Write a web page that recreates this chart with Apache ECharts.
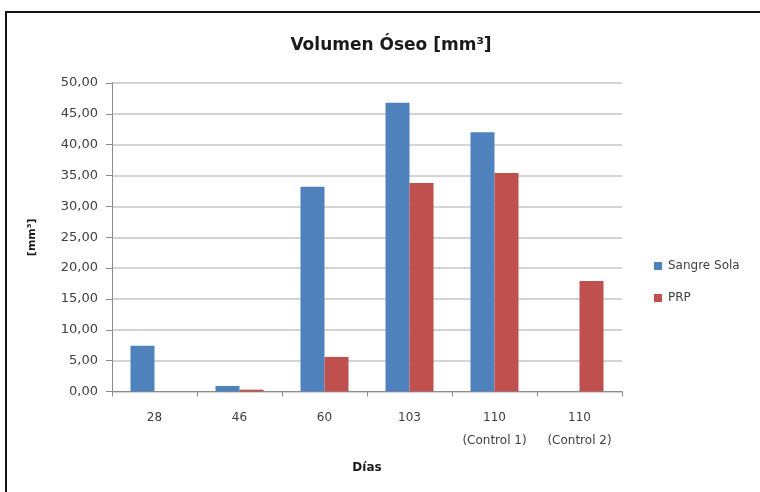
<!DOCTYPE html>
<html>
<head>
<meta charset="utf-8">
<script src="https://cdn.jsdelivr.net/npm/echarts@6/dist/echarts.min.js"></script>
<style>
  html, body { margin: 0; padding: 0; background: #ffffff; overflow: hidden; }
  #chart { width: 760px; height: 492px; }
</style>
</head>
<body>
<div id="chart"></div>
<script>
// Bone volume per sampling day (mm³)
const categories = ['28', '46', '60', '103', '110\n(Control 1)', '110\n(Control 2)'];
const sangreSola = [7.4, 0.9, 33.2, 46.8, 42.0, 0];
const prp = [0, 0.3, 5.6, 33.8, 35.4, 17.9];
const yTicks = { min: 0, max: 50, interval: 5 };

const textColor = '#404040';
const font = 'DejaVu Sans';

const chart = echarts.init(document.getElementById('chart'), null, { renderer: 'canvas' });

const frameStyle = { stroke: '#111111', lineWidth: 2 };

chart.setOption({
  backgroundColor: '#ffffff',
  animation: false,
  title: {
    text: 'Volumen Óseo [mm³]',
    left: 386,
    top: 32,
    textAlign: 'center',
    textStyle: { fontFamily: font, fontSize: 17, fontWeight: 'bold', color: '#1a1a1a' }
  },
  legend: {
    orient: 'vertical',
    left: 649,
    top: 255,
    itemWidth: 8,
    itemHeight: 8,
    itemGap: 20,
    icon: 'rect',
    textStyle: { fontFamily: font, fontSize: 12, color: textColor, padding: [0, 0, 0, 1] },
    data: ['Sangre Sola', 'PRP']
  },
  grid: { left: 112, right: 138, top: 83, bottom: 100.5, containLabel: false },
  xAxis: {
    type: 'category',
    data: categories,
    name: 'Días',
    nameLocation: 'middle',
    nameGap: 70,
    nameTextStyle: { fontFamily: font, fontSize: 12, fontWeight: 'bold', color: '#1a1a1a' },
    axisLine: { lineStyle: { color: '#8c8c8c', width: 1 } },
    axisTick: { show: true, length: 5, lineStyle: { color: '#8c8c8c' } },
    axisLabel: {
      interval: 0,
      margin: 15,
      lineHeight: 23,
      fontFamily: font,
      fontSize: 12,
      color: textColor
    }
  },
  yAxis: {
    type: 'value',
    min: yTicks.min,
    max: yTicks.max,
    interval: yTicks.interval,
    name: '[mm³]',
    nameLocation: 'middle',
    nameGap: 74,
    nameRotate: 90,
    nameTextStyle: { fontFamily: font, fontSize: 11, fontWeight: 'bold', color: '#1a1a1a' },
    axisLine: { show: true, lineStyle: { color: '#8c8c8c', width: 1 } },
    axisTick: { show: true, length: 6, lineStyle: { color: '#8c8c8c' } },
    axisLabel: {
      margin: 14,
      fontFamily: font,
      fontSize: 13,
      color: textColor,
      formatter: v => v.toFixed(2).replace('.', ',')
    },
    splitLine: { show: true, lineStyle: { color: '#c6c6c6', width: 1.5 } }
  },
  series: [
    {
      name: 'Sangre Sola',
      type: 'bar',
      data: sangreSola,
      barWidth: 24,
      barGap: '0%',
      itemStyle: { color: '#4f81bd' }
    },
    {
      name: 'PRP',
      type: 'bar',
      data: prp,
      barWidth: 24,
      barGap: '0%',
      itemStyle: { color: '#c0504d' }
    }
  ],
  graphic: [
    // outer frame: left and top edges only
    {
      type: 'line',
      shape: { x1: 6, y1: 11, x2: 6, y2: 492 },
      style: frameStyle,
      silent: true,
      z: 100
    },
    {
      type: 'line',
      shape: { x1: 5, y1: 12, x2: 760, y2: 12 },
      style: frameStyle,
      silent: true,
      z: 100
    }
  ]
});
</script>
</body>
</html>
